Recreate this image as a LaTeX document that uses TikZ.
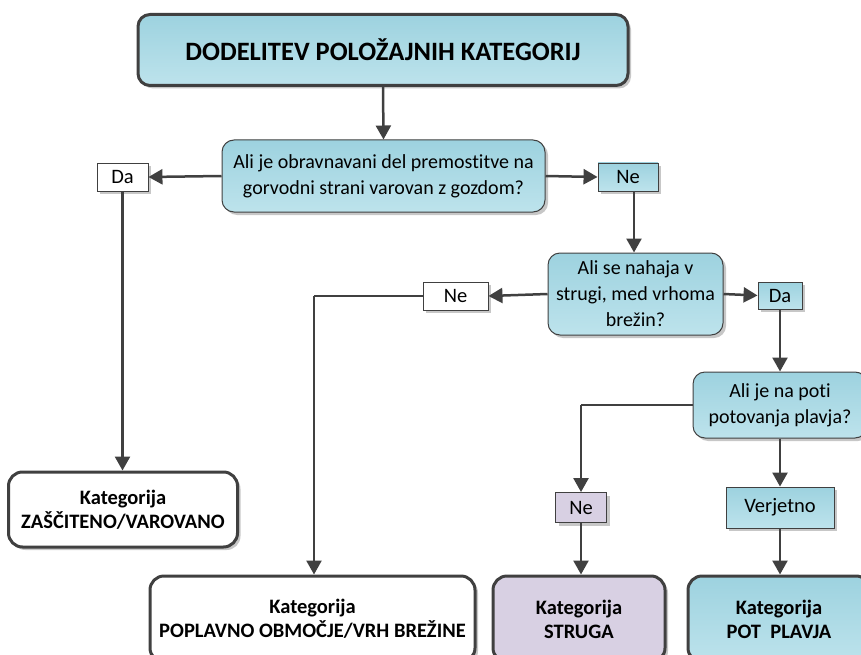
\documentclass[tikz,border=0pt]{standalone}
\usepackage{fontspec}
\setmainfont{Carlito}[Ligatures={NoCommon}]
\usetikzlibrary{arrows.meta,shadows}

\definecolor{edgegray}{HTML}{404040}
\definecolor{blueTop}{HTML}{9DD2DF}
\definecolor{blueBot}{HTML}{BDE3EC}
\definecolor{lavender}{HTML}{D8D0E3}

\tikzset{
  shade/.style={drop shadow={shadow xshift=3pt, shadow yshift=-3pt, fill=black, opacity=0.22}},
  txt/.style={align=center, text=black, inner sep=0pt},
  bluefill/.style={top color=blueTop, bottom color=blueBot},
  headbox/.style={txt, shade, rounded corners=12pt, draw=edgegray, line width=3pt,
    font=\fontsize{26.5}{30}\selectfont\bfseries},
  question/.style={txt, shade, bluefill, rounded corners=12pt, draw=edgegray, line width=1pt,
    font=\fontsize{20}{26}\selectfont},
  tag/.style={txt, shade, draw=edgegray, line width=0.9pt, font=\fontsize{20.5}{24}\selectfont},
  category/.style={txt, shade, rounded corners=14pt, draw=edgegray, line width=3pt,
    font=\fontsize{20.5}{24}\selectfont\bfseries},
  flow/.style={draw=edgegray, line width=2.5pt, -{Triangle[length=14pt,width=15pt]}},
  plain/.style={draw=edgegray, line width=2.5pt},
}

\begin{document}
\begin{tikzpicture}[x=1pt,y=-1pt]
  \useasboundingbox (0,0) rectangle (861,655);
  \begin{scope}
  \clip (0,0) rectangle (861,655);

  % heading
  \node[headbox, bluefill, minimum width=490pt, minimum height=71pt] (title) at (383,50)
    {DODELITEV POLOŽAJNIH KATEGORIJ};

  % first question
  \node[question, minimum width=323pt, minimum height=72pt] (q1) at (383.5,176)
    {Ali je obravnavani del premostitve na\\gorvodni strani varovan z gozdom?};
  \node[tag, fill=white, minimum width=51pt, minimum height=28pt] (da1) at (122.5,177) {Da};
  \node[tag, bluefill, minimum width=60pt, minimum height=28pt] (ne1) at (628,177) {Ne};

  % second question
  \node[question, minimum width=175pt, minimum height=82pt] (q2) at (635.5,294)
    {Ali se nahaja v\\strugi, med vrhoma\\brežin?};
  \node[tag, fill=white, minimum width=65pt, minimum height=28pt] (ne2) at (455.5,296) {Ne};
  \node[tag, bluefill, minimum width=44pt, minimum height=27pt] (da2) at (780,295.5) {Da};

  % third question
  \node[question, minimum width=174pt, minimum height=66pt] (q3) at (780,405)
    {Ali je na poti\\potovanja plavja?};
  \node[tag, fill=lavender, minimum width=51pt, minimum height=30pt] (ne3) at (581,507.5) {Ne};
  \node[tag, bluefill, minimum width=108pt, minimum height=41pt] (verj) at (780,507.5) {Verjetno};

  % categories
  \node[category, fill=white, minimum width=229pt, minimum height=75pt] (k1) at (123,509.5)
    {Kategorija\\ZAŠČITENO/VAROVANO};
  \node[category, fill=white, minimum width=325pt, minimum height=86pt] (k2) at (312.5,619)
    {Kategorija\\POPLAVNO OBMOČJE/VRH BREŽINE};
  \node[category, fill=lavender, minimum width=172pt, minimum height=86pt] (k3) at (579,619)
    {Kategorija\\STRUGA};
  \node[category, bluefill, minimum width=182pt, minimum height=86pt] (k4) at (779,619)
    {Kategorija\\POT~~PLAVJA};

  % connectors
  \draw[flow] (title.south) -- (q1.north);
  \draw[flow] (q1.west) -- (da1.east);
  \draw[flow] (q1.east) -- (ne1.west);
  \draw[flow] (da1.south) -- (da1.south |- k1.north);

  \coordinate (ne1drop) at (634,191);
  \draw[flow] (ne1drop) -- (ne1drop |- q2.north);
  \draw[flow] (q2.west) -- (ne2.east);
  \draw[flow] (q2.east) -- (da2.west);

  \coordinate (bend2) at (314,296);
  \draw[plain] (ne2.west) -- (bend2);
  \draw[flow] (bend2) -- (bend2 |- k2.north);
  \draw[flow] (da2.south -| q3.north) -- (q3.north);

  \coordinate (bend3) at (581,405);
  \draw[plain] (q3.west) -- (bend3);
  \draw[flow] (bend3) -- (ne3.north);
  \draw[flow] (ne3.south) -- (ne3.south |- k3.north);
  \draw[flow] (q3.south) -- (verj.north);
  \draw[flow] (verj.south) -- (verj.south |- k4.north);
  \end{scope}
\end{tikzpicture}
\end{document}
